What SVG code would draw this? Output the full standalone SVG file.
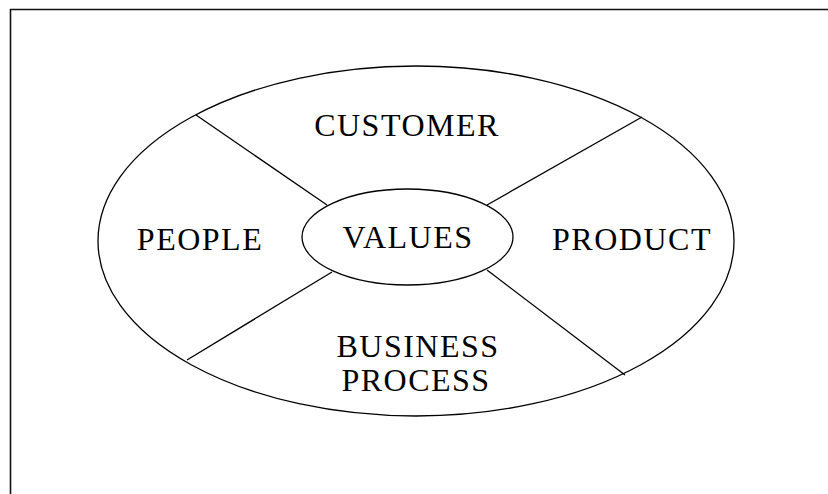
<svg xmlns="http://www.w3.org/2000/svg" width="828" height="494" viewBox="0 0 828 494">
<style>
.sh{fill:none;stroke:#000;stroke-width:1.3}
.t{font-family:"Liberation Serif","Times New Roman",serif;font-size:32px;fill:#000;text-anchor:middle;letter-spacing:1.5px}
</style>
<rect width="828" height="494" fill="#fff"/>
<path d="M10.5,494 V9.5 H828" fill="none" stroke="#111" stroke-width="1.6"/>
<g id="outer"><ellipse class="sh" cx="416" cy="241" rx="318" ry="175"/></g>
<g id="connectors">
<line class="sh" x1="196" y1="115" x2="327" y2="205"/>
<line class="sh" x1="642" y1="117" x2="487" y2="205"/>
<line class="sh" x1="332" y1="272" x2="187" y2="360"/>
<line class="sh" x1="487" y1="270" x2="625" y2="375"/>
</g>
<g id="values"><ellipse class="sh" cx="407.5" cy="237" rx="105.5" ry="48"/><text class="t" x="408" y="248">VALUES</text></g>
<g id="customer"><text class="t" x="407" y="136">CUSTOMER</text></g>
<g id="people"><text class="t" x="200" y="250">PEOPLE</text></g>
<g id="product"><text class="t" x="632" y="250">PRODUCT</text></g>
<g id="business"><text class="t" x="418" y="357">BUSINESS</text><text class="t" x="416" y="391">PROCESS</text></g>
</svg>
